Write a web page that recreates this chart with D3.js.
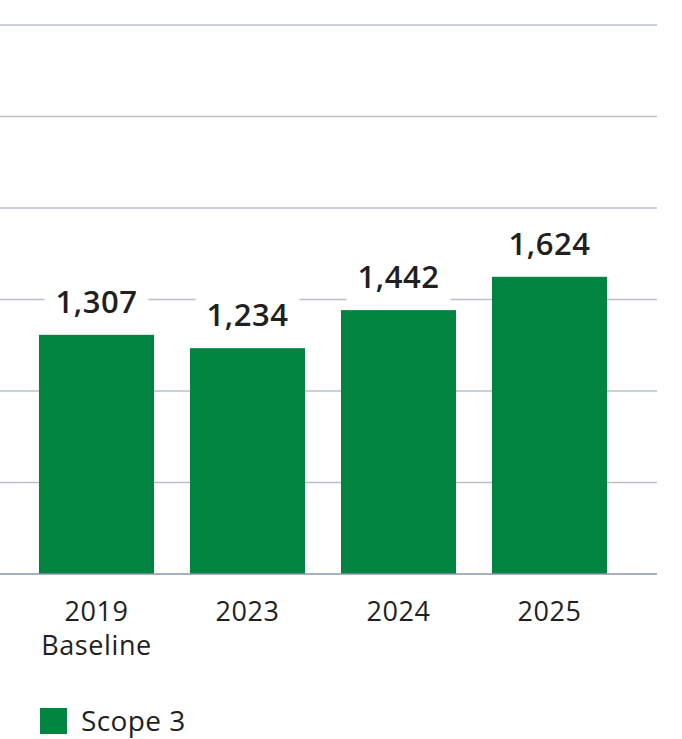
<!DOCTYPE html>
<html>
<head>
<meta charset="utf-8">
<script src="https://cdn.jsdelivr.net/npm/d3@7"></script>
<style>
  html, body { margin: 0; padding: 0; background: #ffffff; }
  svg { display: block; font-family: "Open Sans", sans-serif; }
</style>
</head>
<body>
<svg id="chart" width="682" height="739"></svg>
<script>
const categories = ["2019|Baseline", "2023", "2024", "2025"];
const values = [1307, 1234, 1442, 1624];
const yTicks = [0, 500, 1000, 1500, 2000, 2500, 3000];
const seriesName = "Scope 3";

const green = "#00843f";
const textColor = "#231f20";

const svg = d3.select("#chart");

const x = d3.scaleBand()
  .domain(categories)
  .range([21, 625])
  .paddingInner(0.238)
  .paddingOuter(0.119);

const y = d3.scaleLinear()
  .domain([0, 3000])
  .range([574, 25]);

// gridlines
svg.append("g")
  .selectAll("line")
  .data(yTicks.filter(d => d > 0))
  .join("line")
  .attr("x1", 0).attr("x2", 657)
  .attr("y1", d => y(d)).attr("y2", d => y(d))
  .attr("stroke", "#b9c0cc")
  .attr("stroke-width", 1.3);

// white label backgrounds
svg.append("g")
  .selectAll("rect")
  .data(values)
  .join("rect")
  .attr("x", (d, i) => x(categories[i]) + x.bandwidth() / 2 - 52)
  .attr("width", 104)
  .attr("y", d => y(d) - 54)
  .attr("height", 54)
  .attr("fill", "#ffffff");

// bars
svg.append("g")
  .selectAll("rect")
  .data(values)
  .join("rect")
  .attr("x", (d, i) => x(categories[i]))
  .attr("width", x.bandwidth())
  .attr("y", d => y(d))
  .attr("height", d => y(0) - y(d))
  .attr("fill", green);

// baseline
svg.append("line")
  .attr("x1", 0).attr("x2", 657)
  .attr("y1", y(0)).attr("y2", y(0))
  .attr("stroke", "#8a96aa")
  .attr("stroke-width", 1.5);

// value labels
svg.append("g")
  .selectAll("text")
  .data(values)
  .join("text")
  .attr("x", (d, i) => x(categories[i]) + x.bandwidth() / 2)
  .attr("y", d => y(d) - 22)
  .attr("text-anchor", "middle")
  .attr("font-size", 31)
  .attr("font-weight", 600)
  .attr("letter-spacing", 0.5)
  .attr("fill", textColor)
  .text(d => d3.format(",")(d));

// category labels (one text element per line)
const catLines = [];
categories.forEach(c => {
  c.split("|").forEach((p, i) => catLines.push({ cat: c, text: p, line: i }));
});
svg.append("g")
  .selectAll("text")
  .data(catLines)
  .join("text")
  .attr("x", d => x(d.cat) + x.bandwidth() / 2)
  .attr("y", d => 621 + d.line * 34)
  .attr("text-anchor", "middle")
  .attr("font-size", 27)
  .attr("letter-spacing", 0.6)
  .attr("fill", textColor)
  .text(d => d.text);

// legend
svg.append("rect")
  .attr("x", 40).attr("y", 708)
  .attr("width", 27).attr("height", 26)
  .attr("fill", green);
svg.append("text")
  .attr("x", 81).attr("y", 731)
  .attr("font-size", 28)
  .attr("letter-spacing", 0.4)
  .attr("fill", textColor)
  .text(seriesName);
</script>
</body>
</html>
